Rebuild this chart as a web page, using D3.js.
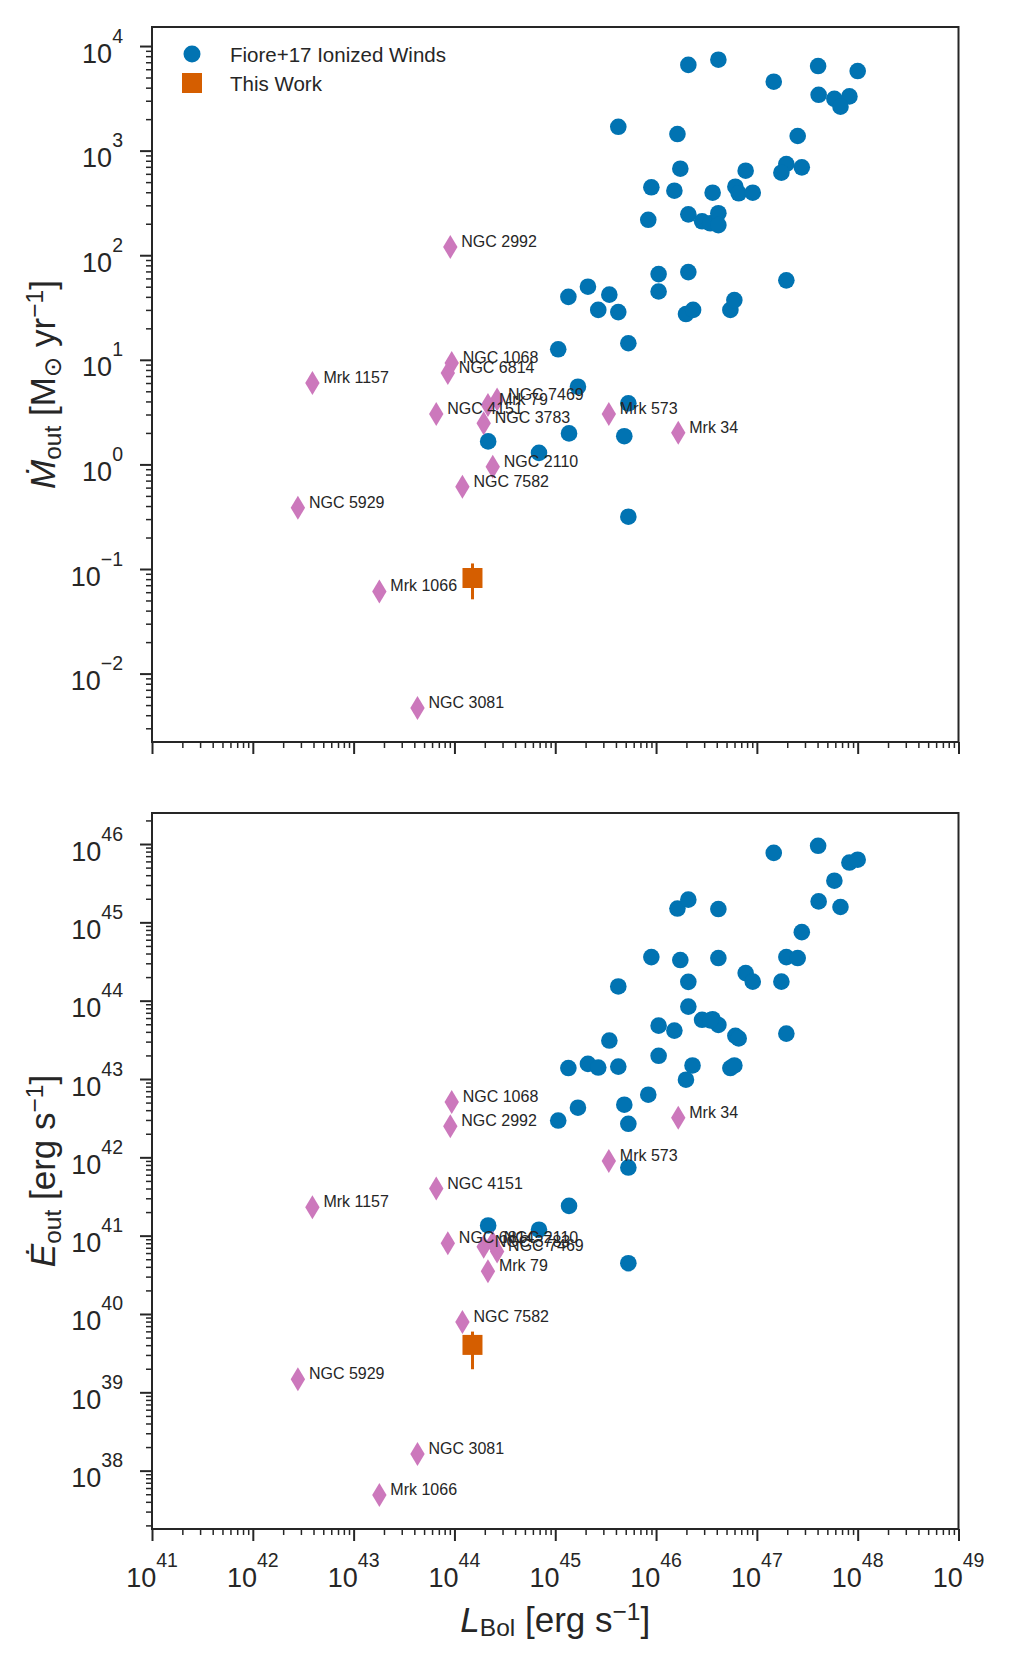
<!DOCTYPE html>
<html lang="en">
<head>
<meta charset="UTF-8">
<title>Mass outflow rate and kinetic power vs bolometric luminosity</title>
<script src="https://d3js.org/d3.v7.min.js"></script>
<style>
  body { margin: 0; background: #fff; }
  svg { display: block; font-family: "Liberation Sans", Arial, "DejaVu Sans", sans-serif; }
  .tick-label { font-size: 27px; fill: #262626; }
  .src-label { font-size: 16px; fill: #262626; }
  .legend-text { font-size: 20.5px; fill: #262626; }
  .axis-title { fill: #262626; }
</style>
</head>
<body>
<div id="chart"></div>
<script>
  // Fiore+17 ionized winds, top panel (L_bol, Mdot_out)
  const fioreLbolM = [2.09e46, 4.15e46, 1.47e47, 4.05e47, 1.0e48, 4.1e47, 5.87e47, 8.28e47, 6.75e47,
                      4.22e45, 1.63e46, 2.54e47, 1.74e46, 7.74e46, 1.96e47, 1.75e47, 2.79e47,
                      8.98e45, 1.52e46, 3.64e46, 6.12e46, 6.6e46, 9.1e46,
                      8.37e45, 2.09e46, 2.86e46, 3.45e46, 4.15e46, 4.15e46,
                      1.06e46, 2.09e46, 1.96e47, 1.35e45, 2.11e45, 3.44e45, 1.06e46,
                      2.67e45, 4.22e45, 1.98e46, 2.33e46, 5.46e46, 5.98e46,
                      1.07e45, 5.31e45, 1.68e45, 5.31e45, 1.37e45, 4.84e45, 6.9e44, 2.16e44, 5.31e45];
  const fioreMout = [6600, 7400, 4560, 6440, 5770, 3420, 3130, 3300, 2630,
                     1690, 1440, 1380, 672, 643, 745, 615, 692,
                     446, 414, 396, 452, 391, 396,
                     218, 246, 211, 202, 252, 194,
                     66, 69, 57.5, 40, 50, 42, 45,
                     30, 28.6, 27.4, 30, 30, 37.3,
                     12.6, 14.4, 5.53, 3.84, 1.98, 1.86, 1.29, 1.66, 0.316];

  // Fiore+17 ionized winds, bottom panel (L_bol, Edot_out)
  const fioreLbolE = [1.47e47, 4.05e47, 8.28e47, 1.0e48, 5.87e47, 4.1e47, 6.75e47,
                      1.63e46, 2.09e46, 4.15e46, 2.79e47,
                      8.98e45, 1.74e46, 4.15e46, 1.96e47, 2.54e47,
                      7.74e46, 9.1e46, 1.75e47, 2.09e46, 4.22e45,
                      2.09e46, 2.86e46, 3.64e46, 4.15e46, 1.06e46, 1.52e46,
                      6.12e46, 6.6e46, 1.96e47, 3.44e45, 3.45e46,
                      1.35e45, 2.11e45, 2.67e45, 4.22e45, 1.06e46, 2.3e46, 5.46e46, 5.98e46,
                      1.98e46, 8.37e45, 1.68e45, 4.84e45, 1.07e45, 5.31e45,
                      5.31e45, 1.37e45, 2.16e44, 6.9e44, 5.31e45];
  const fioreEout = [7.7e45, 9.5e45, 5.8e45, 6.3e45, 3.4e45, 1.85e45, 1.57e45,
                     1.5e45, 1.95e45, 1.48e45, 7.5e44,
                     3.6e44, 3.3e44, 3.5e44, 3.6e44, 3.5e44,
                     2.25e44, 1.75e44, 1.75e44, 1.74e44, 1.52e44,
                     8.4e43, 5.7e43, 5.8e43, 4.9e43, 4.8e43, 4.15e43,
                     3.56e43, 3.3e43, 3.8e43, 3.1e43, 5.6e43,
                     1.38e43, 1.56e43, 1.4e43, 1.44e43, 1.98e43, 1.49e43, 1.38e43, 1.49e43,
                     9.8e42, 6.3e42, 4.3e42, 4.7e42, 2.95e42, 2.68e42,
                     7.4e41, 2.4e41, 1.35e41, 1.19e41, 4.45e40];

  // Named local Seyferts
  const srcNames = ["NGC 1068", "NGC 2992", "NGC 3081", "NGC 3783", "NGC 4151", "NGC 5929", "NGC 6814",
                    "NGC 7469", "NGC 7582", "NGC 2110", "Mrk 1066", "Mrk 1157", "Mrk 573", "Mrk 79", "Mrk 34"];
  const srcLbol = [9.4e43, 9.1e43, 4.3e43, 1.95e44, 6.6e43, 2.8e42, 8.6e43,
                   2.65e44, 1.2e44, 2.4e44, 1.8e43, 3.9e42, 3.4e45, 2.15e44, 1.66e46];
  const srcMout = [9.3, 120, 0.0047, 2.47, 3.03, 0.385, 7.5,
                   4.17, 0.61, 0.95, 0.061, 6.0, 3.03, 3.7, 2.01];
  const srcEout = [5.1e42, 2.5e42, 1.63e38, 7.2e40, 4.0e41, 1.47e39, 8.0e40,
                   6.3e40, 7.9e39, 8.1e40, 4.9e37, 2.3e41, 9.0e41, 3.5e40, 3.2e42];

  // This work
  const thisLbol = [1.51e44];
  const thisMout = [0.082], thisMoutLo = [0.0513], thisMoutHi = [0.113];
  const thisEout = [4.03e39], thisEoutLo = [1.97e39], thisEoutHi = [5.96e39];

  // decade exponents used for major tick labels
  const xExps = d3.range(41, 50);
  const mExps = d3.range(-2, 5);
  const eExps = d3.range(38, 47);

  const legendLabels = ["Fiore+17 Ionized Winds", "This Work"];

  const blue = "#0173b2", orange = "#d55e00", pink = "#cc78bc", ink = "#262626";

  const width = 1011, height = 1657;
  const plotLeft = 152, plotRight = 958.5;

  const svg = d3.select("#chart")
                .append("svg")
                .attr("width", width)
                .attr("height", height);

  const x = d3.scaleLog().domain([1e41, 1e49]).range([plotLeft, plotRight]);

  function minorTicks(domain) {
    const lo = Math.floor(Math.log10(domain[0])), hi = Math.ceil(Math.log10(domain[1]));
    const out = [];
    for (let n = lo; n < hi; n++) {
      for (let k = 2; k <= 9; k++) {
        const v = k * Math.pow(10, n);
        if (v >= domain[0] && v <= domain[1]) out.push(v);
      }
    }
    return out;
  }

  function expText(e) {
    return e < 0 ? "\u2212" + (-e) : String(e);
  }

  // "10" with a raised exponent
  function powerLabel(sel, e) {
    sel.append("tspan").text("10");
    sel.append("tspan").attr("dy", -20).style("font-size", "19.5px").text(expText(e));
  }

  const thinDiamond = {
    draw(ctx, size) {
      const h = Math.sqrt(size) / 2, w = h * 0.6;
      ctx.moveTo(0, -h);
      ctx.lineTo(w, 0);
      ctx.lineTo(0, h);
      ctx.lineTo(-w, 0);
      ctx.closePath();
    }
  };

  function drawPanel(cfg) {
    const y = d3.scaleLog().domain(cfg.domain).range([cfg.bottom, cfg.top]);
    const g = svg.append("g");

    // y ticks
    const yMajor = cfg.exps.map(e => Math.pow(10, e));
    g.append("g")
     .attr("transform", `translate(${plotLeft},0)`)
     .style("color", ink)
     .call(d3.axisLeft(y).tickValues(minorTicks(cfg.domain)).tickSize(6).tickFormat(""))
     .call(a => a.select(".domain").remove())
     .call(a => a.selectAll("line").attr("stroke-width", 1.5));
    g.append("g")
     .attr("transform", `translate(${plotLeft},0)`)
     .style("color", ink)
     .call(d3.axisLeft(y).tickValues(yMajor).tickSize(12).tickFormat(""))
     .call(a => a.select(".domain").remove())
     .call(a => a.selectAll("line").attr("stroke-width", 2));

    // x ticks
    const xMajor = xExps.map(e => Math.pow(10, e));
    g.append("g")
     .attr("transform", `translate(0,${cfg.bottom})`)
     .style("color", ink)
     .call(d3.axisBottom(x).tickValues(minorTicks(x.domain())).tickSize(6).tickFormat(""))
     .call(a => a.select(".domain").remove())
     .call(a => a.selectAll("line").attr("stroke-width", 1.5));
    g.append("g")
     .attr("transform", `translate(0,${cfg.bottom})`)
     .style("color", ink)
     .call(d3.axisBottom(x).tickValues(xMajor).tickSize(12).tickFormat(""))
     .call(a => a.select(".domain").remove())
     .call(a => a.selectAll("line").attr("stroke-width", 2));

    // y tick labels
    cfg.exps.forEach(e => {
      g.append("text")
       .attr("class", "tick-label")
       .attr("x", 123)
       .attr("y", y(Math.pow(10, e)) + 16.5)
       .attr("text-anchor", "end")
       .call(powerLabel, e);
    });

    if (cfg.xLabels) {
      xExps.forEach(e => {
        g.append("text")
         .attr("class", "tick-label")
         .attr("x", x(Math.pow(10, e)))
         .attr("y", cfg.bottom + 57.5)
         .attr("text-anchor", "middle")
         .call(powerLabel, e);
      });
    }

    // Fiore+17 points
    g.append("g").selectAll("circle")
     .data(cfg.fioreL.map((l, i) => [l, cfg.fioreV[i]]))
     .enter()
     .append("circle")
     .attr("cx", d => x(d[0]))
     .attr("cy", d => y(d[1]))
     .attr("r", 8.3)
     .attr("fill", blue);

    // named sources
    const src = srcNames.map((n, i) => ({name: n, l: srcLbol[i], v: cfg.srcV[i]}));
    g.append("g").selectAll("path")
     .data(src)
     .enter()
     .append("path")
     .attr("transform", d => `translate(${x(d.l)},${y(d.v)})`)
     .attr("d", d3.symbol().type(thinDiamond).size(24 * 24))
     .attr("fill", pink);

    // this work, with error bar
    g.append("g").selectAll("line")
     .data(thisLbol.map((l, i) => ({l, lo: cfg.thisLo[i], hi: cfg.thisHi[i]})))
     .enter()
     .append("line")
     .attr("x1", d => x(d.l))
     .attr("x2", d => x(d.l))
     .attr("y1", d => y(d.lo))
     .attr("y2", d => y(d.hi))
     .attr("stroke", orange)
     .attr("stroke-width", 3);
    g.append("g").selectAll("path")
     .data(thisLbol.map((l, i) => [l, cfg.thisV[i]]))
     .enter()
     .append("path")
     .attr("transform", d => `translate(${x(d[0])},${y(d[1])})`)
     .attr("d", d3.symbol().type(d3.symbolSquare).size(20 * 20))
     .attr("fill", orange);

    // source labels
    g.append("g").selectAll("text")
     .data(src)
     .enter()
     .append("text")
     .attr("class", "src-label")
     .attr("x", d => x(d.l) + 11)
     .attr("y", d => y(d.v))
     .text(d => d.name);

    // frame
    g.append("rect")
     .attr("x", plotLeft)
     .attr("y", cfg.top)
     .attr("width", plotRight - plotLeft)
     .attr("height", cfg.bottom - cfg.top)
     .attr("fill", "none")
     .attr("stroke", ink)
     .attr("stroke-width", 2);

    // y axis title
    const t = g.append("text")
     .attr("class", "axis-title")
     .attr("transform", `translate(55,${(cfg.top + cfg.bottom) / 2}) rotate(-90)`)
     .attr("text-anchor", "middle")
     .style("font-size", "35px");
    cfg.title(t);

    return {g, y};
  }

  drawPanel({
    top: 27, bottom: 742,
    domain: [Math.pow(10, -2.654), Math.pow(10, 4.182)],
    exps: mExps,
    fioreL: fioreLbolM, fioreV: fioreMout,
    srcV: srcMout,
    thisV: thisMout, thisLo: thisMoutLo, thisHi: thisMoutHi,
    xLabels: false,
    title: t => {
      t.append("tspan").style("font-style", "italic").text("\u1E40");
      t.append("tspan").attr("dy", 6).style("font-size", "24.5px").text("out");
      t.append("tspan").attr("dy", -6).text(" [M");
      t.append("tspan").attr("dy", 6).style("font-size", "24.5px").text("\u2299");
      t.append("tspan").attr("dy", -6).text(" yr");
      t.append("tspan").attr("dy", -12).style("font-size", "24.5px").text("\u22121");
      t.append("tspan").attr("dy", 12).text("]");
    }
  });

  drawPanel({
    top: 813, bottom: 1529,
    domain: [Math.pow(10, 37.255), Math.pow(10, 46.396)],
    exps: eExps,
    fioreL: fioreLbolE, fioreV: fioreEout,
    srcV: srcEout,
    thisV: thisEout, thisLo: thisEoutLo, thisHi: thisEoutHi,
    xLabels: true,
    title: t => {
      t.append("tspan").style("font-style", "italic").text("\u0116");
      t.append("tspan").attr("dy", 6).style("font-size", "24.5px").text("out");
      t.append("tspan").attr("dy", -6).text(" [erg s");
      t.append("tspan").attr("dy", -12).style("font-size", "24.5px").text("\u22121");
      t.append("tspan").attr("dy", 12).text("]");
    }
  });

  // x axis title
  const xt = svg.append("text")
    .attr("class", "axis-title")
    .attr("x", (plotLeft + plotRight) / 2)
    .attr("y", 1632)
    .attr("text-anchor", "middle")
    .style("font-size", "35px");
  xt.append("tspan").style("font-style", "italic").text("L");
  xt.append("tspan").attr("dy", 4).style("font-size", "24.5px").text("Bol");
  xt.append("tspan").attr("dy", -4).text(" [erg s");
  xt.append("tspan").attr("dy", -12).style("font-size", "24.5px").text("\u22121");
  xt.append("tspan").attr("dy", 12).text("]");

  // legend
  const legend = svg.append("g");
  legend.append("circle")
        .attr("cx", 192).attr("cy", 54).attr("r", 8.5)
        .attr("fill", blue);
  legend.append("rect")
        .attr("x", 182).attr("y", 73).attr("width", 20).attr("height", 20)
        .attr("fill", orange);
  legend.selectAll("text.legend-text")
        .data(legendLabels)
        .enter()
        .append("text")
        .attr("class", "legend-text")
        .attr("x", 230)
        .attr("y", (d, i) => 61.5 + i * 29)
        .text(d => d);
</script>
</body>
</html>
